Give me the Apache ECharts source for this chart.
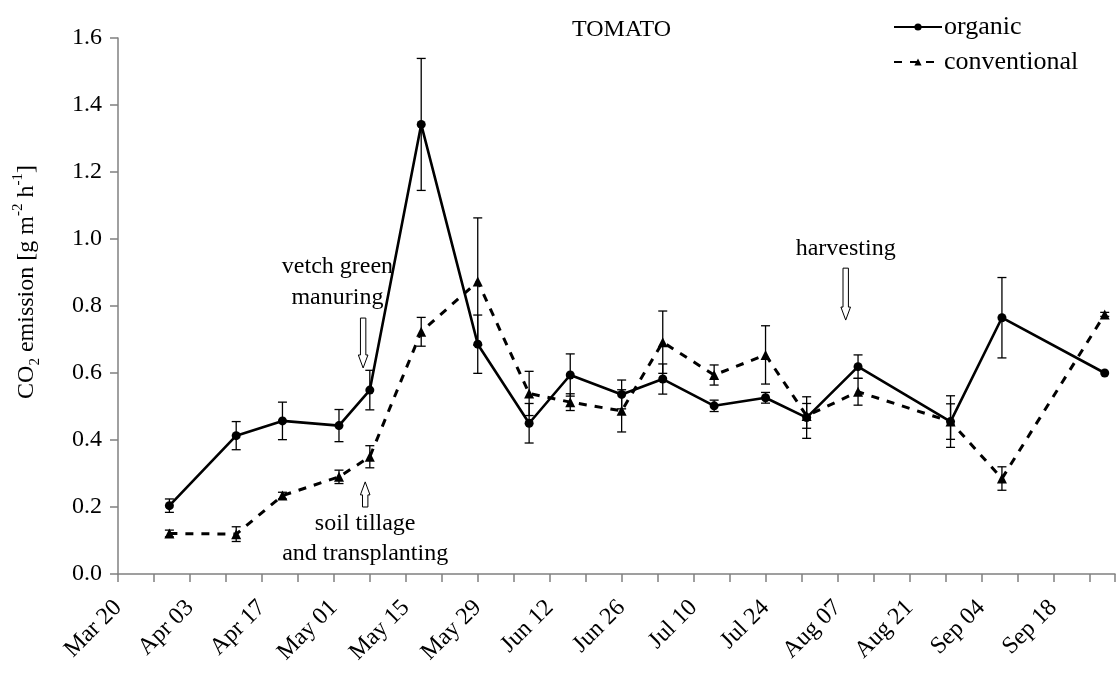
<!DOCTYPE html>
<html><head><meta charset="utf-8">
<script src="https://cdn.jsdelivr.net/npm/echarts@6/dist/echarts.min.js"></script>
<style>html,body{margin:0;padding:0;background:#fff}#c{width:1118px;height:691px}</style>
</head><body><div id="c"></div>
<script>
// x values are days counted from Mar 20
const tickLabels = ['Mar 20','Apr 03','Apr 17','May 01','May 15','May 29','Jun 12','Jun 26','Jul 10','Jul 24','Aug 07','Aug 21','Sep 04','Sep 18'];
const sampleDays = [10,23,32,43,49,59,70,80,88,98,106,116,126,134,144,162,172,192];
const organicVals = [0.204,0.413,0.457,0.443,0.549,1.342,0.686,0.450,0.594,0.536,0.582,0.502,0.526,0.467,0.619,0.455,0.765,0.600];
const organicErr  = [0.020,0.042,0.056,0.048,0.059,0.197,0.087,0.059,0.063,0.043,0.045,0.017,0.016,0.062,0.035,0.077,0.120,0.000];
const convVals    = [0.121,0.119,0.234,0.290,0.350,0.723,0.873,0.539,0.513,0.487,0.692,0.594,0.654,0.472,0.544,0.455,0.285,0.775];
const convErr     = [0.010,0.022,0.010,0.020,0.033,0.043,0.190,0.066,0.025,0.063,0.093,0.030,0.087,0.037,0.040,0.053,0.035,0.006];

// annotations: arrow day, arrow start value, arrow tip value; text lines with their values
const annArrowDay  = [47.7, 48.1, 141.6];
const annArrowFrom = [0.764, 0.200, 0.913];
const annArrowTip  = [0.615, 0.275, 0.758];
const annTextDay   = [42.7, 48.1, 141.6];
const annTexts     = [['vetch green','manuring'],['soil tillage','and transplanting'],['harvesting']];
const annTextVals  = [[0.916,0.824],[0.150,0.060],[0.972]];

const FONT = '"Liberation Serif", "Times New Roman", serif';
const AX = '#808080';
const FS = 24;

function errorSeries(vals, errs){
  return {
    type:'custom', silent:true, z:1,
    data: sampleDays.map((d,i)=>[d, vals[i]-errs[i], vals[i]+errs[i]]),
    encode:{x:0, y:[1,2]},
    renderItem(params, api){
      if (api.value(2) - api.value(1) < 0.0001) return null;
      const lo = api.coord([api.value(0), api.value(1)]);
      const hi = api.coord([api.value(0), api.value(2)]);
      const w = 4.5, st = {stroke:'#000', lineWidth:1.3};
      return {type:'group', children:[
        {type:'line', shape:{x1:lo[0],y1:lo[1],x2:hi[0],y2:hi[1]}, style:st},
        {type:'line', shape:{x1:lo[0]-w,y1:lo[1],x2:lo[0]+w,y2:lo[1]}, style:st},
        {type:'line', shape:{x1:hi[0]-w,y1:hi[1],x2:hi[0]+w,y2:hi[1]}, style:st}
      ]};
    }
  };
}

const annSeries = {
  type:'custom', silent:true, z:5,
  data: annArrowDay.map((d,i)=>[d, annArrowFrom[i], annArrowTip[i], i]),
  encode:{x:0, y:[1,2]},
  renderItem(params, api){
    const i = api.value(3);
    const a = api.coord([api.value(0), api.value(1)]);
    const t = api.coord([api.value(0), api.value(2)]);
    const x = a[0], s = (t[1] > a[1]) ? 1 : -1;
    const sw = 2.7, hw = 4.8, hl = 13;
    const hb = t[1] - s*hl;
    const pts = [[x-sw,a[1]],[x+sw,a[1]],[x+sw,hb],[x+hw,hb],[x,t[1]],[x-hw,hb],[x-sw,hb]];
    const children = [{type:'polygon', shape:{points:pts}, style:{fill:'#fff', stroke:'#000', lineWidth:1}}];
    annTexts[i].forEach((txt,k)=>{
      const p = api.coord([annTextDay[i], annTextVals[i][k]]);
      children.push({type:'text', x:p[0], y:p[1], style:{text:txt, fill:'#000', font:FS + 'px ' + FONT, align:'center', verticalAlign:'middle'}});
    });
    return {type:'group', children};
  }
};

const chart = echarts.init(document.getElementById('c'));
chart.setOption({
  animation:false,
  backgroundColor:'#fff',
  title:{text:'TOMATO', left:567, top:13, textStyle:{fontFamily:FONT, fontSize:FS, fontWeight:'normal', color:'#000'}},
  legend:{
    data:['organic','conventional'], orient:'vertical', left:888, top:9,
    itemWidth:48, itemHeight:9, itemGap:9,
    textStyle:{fontFamily:FONT, fontSize:26, color:'#000', padding:[0,0,0,-3]}
  },
  grid:{left:118, right:3, top:38, bottom:117},
  xAxis:{
    type:'value', min:0, max:194, interval:7,
    axisLine:{lineStyle:{color:AX, width:1.5}},
    axisTick:{length:8, lineStyle:{color:AX, width:1.5}},
    splitLine:{show:false},
    axisLabel:{
      rotate:45, margin:30, color:'#000', fontFamily:FONT, fontSize:FS,
      formatter:(v)=> (v % 14 === 0 && tickLabels[v/14]) ? tickLabels[v/14] : ''
    }
  },
  yAxis:{
    type:'value', min:0, max:1.6, interval:0.2,
    axisLine:{show:true, lineStyle:{color:AX, width:1.5}},
    axisTick:{show:true, length:8, lineStyle:{color:AX, width:1.5}},
    splitLine:{show:false},
    axisLabel:{margin:16, color:'#000', fontFamily:FONT, fontSize:FS, formatter:(v)=>v.toFixed(1)}
  },
  graphic:[{
    type:'text', x:27, y:282, rotation:Math.PI/2,
    style:{
      text:'{n|CO}{s|2}{n| emission [g m}{p|-2}{n| h}{p|-1}{n|]}',
      align:'center', verticalAlign:'middle', fill:'#000',
      rich:{
        n:{fontFamily:FONT, fontSize:FS, lineHeight:32, verticalAlign:'middle'},
        s:{fontFamily:FONT, fontSize:15, lineHeight:32, verticalAlign:'bottom'},
        p:{fontFamily:FONT, fontSize:15, lineHeight:32, verticalAlign:'top'}
      }
    }
  }],
  series:[
    errorSeries(organicVals, organicErr),
    errorSeries(convVals, convErr),
    {name:'organic', type:'line', z:3, data:sampleDays.map((d,i)=>[d, organicVals[i]]),
     symbol:'circle', symbolSize:9, itemStyle:{color:'#000'}, lineStyle:{color:'#000', width:2.6}},
    {name:'conventional', type:'line', z:3, data:sampleDays.map((d,i)=>[d, convVals[i]]),
     symbol:'triangle', symbolSize:10, itemStyle:{color:'#000'}, lineStyle:{color:'#000', width:3, type:[8,8]}},
    annSeries
  ]
});
</script>
</body></html>
